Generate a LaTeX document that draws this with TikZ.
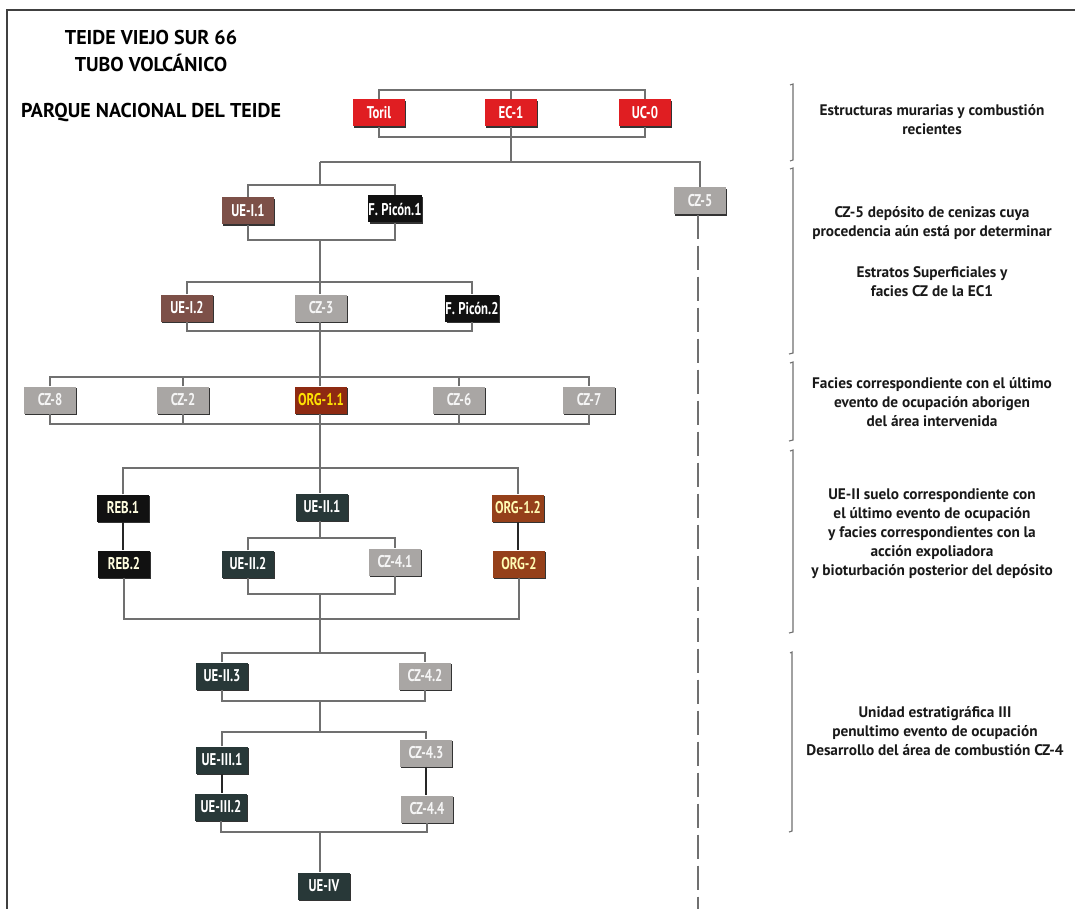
\documentclass[tikz,border=0pt]{standalone}
\usepackage{fontspec}
\setmainfont{PT Sans}
\newfontfamily\titlefont{PT Sans}
\newfontfamily\boxfont[FakeStretch=0.75]{PT Sans}
\usetikzlibrary{shadows}
\definecolor{cred}{HTML}{E01E22}
\definecolor{cbrown}{HTML}{7D5048}
\definecolor{cblack}{HTML}{111111}
\definecolor{cgray}{HTML}{A9A6A4}
\definecolor{corgA}{HTML}{8E2A12}
\definecolor{corgB}{HTML}{95401A}
\definecolor{cteal}{HTML}{283838}
\definecolor{cline}{HTML}{707070}
\tikzset{
  ubox/.style={draw=none, minimum width=52pt, minimum height=27pt, inner sep=0pt,
    font=\boxfont\bfseries\fontsize{17}{17}\selectfont,
    general shadow={fill=black!80, shadow xshift=1.3pt, shadow yshift=-1.6pt}},
  redbox/.style={ubox, fill=cred, text=white},
  brownbox/.style={ubox, fill=cbrown, text=white},
  blackbox/.style={ubox, fill=cblack, text=white},
  graybox/.style={ubox, fill=cgray, text=white!92!gray},
  orgAbox/.style={ubox, fill=corgA, text=yellow!85!orange},
  orgBbox/.style={ubox, fill=corgB, text=yellow!30!white},
  tealbox/.style={ubox, fill=cteal, text=white},
  rebbox/.style={ubox, fill=cblack, text=yellow!12!white},
  conn/.style={draw=cline, line width=1.1pt},
  dconn/.style={draw=black!85, line width=1.8pt},
  brk/.style={draw=cline, line width=1.1pt},
  note/.style={align=center, font=\bfseries\fontsize{15.3}{19}\selectfont, text=black!90},
  ttl/.style={font=\titlefont\bfseries\fontsize{20}{25}\selectfont, text=black}
}
\begin{document}
\begin{tikzpicture}[x=1pt,y=-1pt]
\useasboundingbox (0,0) rectangle (1075,909);
\fill[white] (0,0) rectangle (1075,909);
% frame
\draw[black!75, line width=1.3pt] (7,909) -- (7,10) -- (1075,10);

% titles
\node[ttl] (t1) at (151,38) {TEIDE VIEJO SUR 66};
\node[ttl] (t2) at (151,63) {TUBO VOLCÁNICO};
\node[ttl] (t3) at (151,113) {PARQUE NACIONAL DEL TEIDE};

% bracket levels
\coordinate (tr) at (320,0);
\coordinate (yA) at (0,90);
\coordinate (yB) at (0,137);
\coordinate (yC) at (0,162);
\coordinate (yD) at (0,185);
\coordinate (yE) at (0,240);
\coordinate (yF) at (0,282);
\coordinate (yG) at (0,331);
\coordinate (yH) at (0,377);
\coordinate (yI) at (0,424);
\coordinate (yJ) at (0,468);
\coordinate (yK) at (0,538);
\coordinate (yL) at (0,594);
\coordinate (yM) at (0,619);
\coordinate (yN) at (0,653);
\coordinate (yO) at (0,701);
\coordinate (yP) at (0,732);
\coordinate (yQ) at (0,832);
\coordinate (dend) at (698,909);

% nodes
\node[redbox] (toril) at (379,113) {Toril};
\node[redbox] (ec1) at (511,113) {EC-1};
\node[redbox] (uc0) at (645,113) {UC-0};

\node[graybox] (cz5) at (700,201) {CZ-5};
\node[brownbox] (uei1) at (248,211) {UE-I.1};
\node[blackbox] (picon1) at (395,209) {F. Picón.1};

\node[brownbox] (uei2) at (187,308) {UE-I.2};
\node[graybox] (cz3) at (321,308) {CZ-3};
\node[blackbox] (picon2) at (472,308) {F. Picón.2};

\node[graybox] (cz8) at (50,400) {CZ-8};
\node[graybox] (cz2) at (183,400) {CZ-2};
\node[orgAbox] (org11) at (321,400) {ORG-1.1};
\node[graybox] (cz6) at (459,400) {CZ-6};
\node[graybox] (cz7) at (589,400) {CZ-7};

\node[rebbox] (reb1) at (123,508) {REB.1};
\node[tealbox] (ue21) at (322,507) {UE-II.1};
\node[orgBbox] (org12) at (518,508) {ORG-1.2};
\node[rebbox] (reb2) at (124,564) {REB.2};
\node[tealbox] (ue22) at (248,564) {UE-II.2};
\node[graybox] (cz41) at (395,562) {CZ-4.1};
\node[orgBbox] (org2) at (519,564) {ORG-2};

\node[tealbox] (ue23) at (222,676) {UE-II.3};
\node[graybox] (cz42) at (425,676) {CZ-4.2};
\node[tealbox] (ue31) at (222,760) {UE-III.1};
\node[graybox] (cz43) at (426,753) {CZ-4.3};
\node[tealbox] (ue32) at (221,807) {UE-III.2};
\node[graybox] (cz44) at (427,809) {CZ-4.4};
\node[tealbox] (ue4) at (324,886) {UE-IV};

% connectors
\draw[conn] (toril.north) -- (toril.north |- yA) -- (uc0.north |- yA) -- (uc0.north);
\draw[conn] (ec1.north) -- (ec1.north |- yA);
\draw[conn] (toril.south) -- (toril.south |- yB) -- (uc0.south |- yB) -- (uc0.south);
\draw[conn] (ec1.south) -- (ec1.south |- yC);
\draw[conn] (tr |- yC) -- (cz5.north |- yC) -- (cz5.north);
\draw[conn] (tr |- yC) -- (tr |- yD);
\draw[conn] (uei1.north) -- (uei1.north |- yD) -- (picon1.north |- yD) -- (picon1.north);
\draw[conn] (uei1.south) -- (uei1.south |- yE) -- (picon1.south |- yE) -- (picon1.south);
\draw[conn] (tr |- yE) -- (tr |- yF) -- (cz3.north -| tr);
\draw[conn] (uei2.north) -- (uei2.north |- yF) -- (picon2.north |- yF) -- (picon2.north);
\draw[conn] (uei2.south) -- (uei2.south |- yG) -- (picon2.south |- yG) -- (picon2.south);
\draw[conn] (cz3.south -| tr) -- (tr |- yH) -- (org11.north -| tr);
\draw[conn] (cz8.north) -- (cz8.north |- yH) -- (cz7.north |- yH) -- (cz7.north);
\draw[conn] (cz2.north) -- (cz2.north |- yH);
\draw[conn] (cz6.north) -- (cz6.north |- yH);
\draw[conn] (cz8.south) -- (cz8.south |- yI) -- (cz7.south |- yI) -- (cz7.south);
\draw[conn] (cz2.south) -- (cz2.south |- yI);
\draw[conn] (cz6.south) -- (cz6.south |- yI);
\draw[conn] (org11.south -| tr) -- (tr |- yJ) -- (ue21.north -| tr);
\draw[conn] (reb1.north) -- (reb1.north |- yJ) -- (org12.north |- yJ) -- (org12.north);
\draw[dconn] (reb1.south) -- (reb2.north -| reb1.south);
\draw[dconn] (org12.south) -- (org2.north -| org12.south);
\draw[conn] (ue21.south -| tr) -- (tr |- yK);
\draw[conn] (ue22.north) -- (ue22.north |- yK) -- (cz41.north |- yK) -- (cz41.north);
\draw[conn] (ue22.south) -- (ue22.south |- yL) -- (cz41.south |- yL) -- (cz41.south);
\draw[conn] (tr |- yL) -- (tr |- yN);
\draw[conn] (reb2.south) -- (reb2.south |- yM) -- (org2.south |- yM) -- (org2.south);
\draw[conn] (ue23.north) -- (ue23.north |- yN) -- (cz42.north |- yN) -- (cz42.north);
\draw[conn] (ue23.south) -- (ue23.south |- yO) -- (cz42.south |- yO) -- (cz42.south);
\draw[conn] (tr |- yO) -- (tr |- yP);
\draw[conn] (ue31.north) -- (ue31.north |- yP) -- (cz43.north |- yP) -- (cz43.north);
\draw[dconn] (ue31.south) -- (ue32.north -| ue31.south);
\draw[dconn] (cz43.south) -- (cz44.north -| cz43.south);
\draw[conn] (ue32.south) -- (ue32.south |- yQ) -- (cz44.south |- yQ) -- (cz44.south);
\draw[conn] (tr |- yQ) -- (ue4.north -| tr);
\draw[cline, line width=1.1pt, dash pattern=on 24pt off 7pt] (cz5.south -| dend) -- (dend);

% right brackets
\draw[brk] (790,85) -- (793,84) -- (793,160) -- (790,161);
\draw[brk] (790,169) -- (793,168) -- (793,353) -- (789,354);
\draw[brk] (790,363) -- (793,362) -- (793,440) -- (789,441);
\draw[brk] (790,451) -- (793,450) -- (793,632) -- (789,633);
\draw[brk] (790,653) -- (792,652) -- (792,831) -- (789,832);

% notes
\node[note] (n1) at (932,120) {Estructuras murarias y combustión\\recientes};
\node[note] (n2) at (932,223) {CZ-5 depósito de cenizas cuya\\procedencia aún está por determinar};
\node[note] (n3) at (932,282) {Estratos Superficiales y\\facies CZ de la EC1};
\node[note] (n4) at (932,402) {Facies correspondiente con el último\\evento de ocupación aborigen\\del área intervenida};
\node[note] (n5) at (932,534) {UE-II suelo correspondiente con\\el último evento de ocupación\\y facies correspondientes con la\\acción expoliadora\\y bioturbación posterior del depósito};
\node[note] (n6) at (935,731) {Unidad estratigráfica III\\penultimo evento de ocupación\\Desarrollo del área de combustión CZ-4};
\end{tikzpicture}
\end{document}
